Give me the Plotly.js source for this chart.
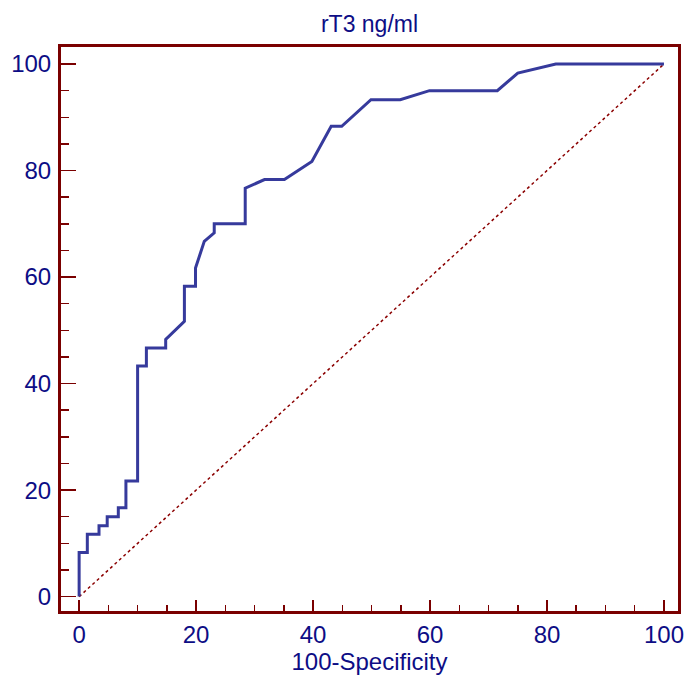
<!DOCTYPE html>
<html>
<head>
<meta charset="utf-8">
<script src="https://cdn.plot.ly/plotly-3.0.1.min.js"></script>
<style>html,body{margin:0;padding:0;background:#fff;}#chart{width:686px;height:677px;}</style>
</head>
<body>
<div id="chart"></div>
<script>
const chartTitle = "rT3 ng/ml";
const xTitle = "100-Specificity";
const rocX = [0, 0, 1.4, 1.4, 3.4, 3.4, 4.8, 4.8, 6.7, 6.7, 8.0, 8.0, 10.0, 10.0, 11.5, 11.5, 14.8, 14.8, 18.0, 18.0, 19.9, 19.9, 21.4, 23.1, 23.1, 28.4, 28.4, 31.7, 35.1, 39.8, 43.1, 44.9, 49.9, 54.9, 59.9, 71.5, 75.0, 81.5, 100];
const rocY = [0, 8.3, 8.3, 11.7, 11.7, 13.3, 13.3, 15.0, 15.0, 16.7, 16.7, 21.7, 21.7, 43.3, 43.3, 46.7, 46.7, 48.3, 51.7, 58.3, 58.3, 61.7, 66.7, 68.3, 70.0, 70.0, 76.7, 78.3, 78.3, 81.7, 88.3, 88.3, 93.3, 93.3, 95.0, 95.0, 98.3, 100, 100];
const diagX = [0, 100];
const diagY = [0, 100];
const tickVals = [0, 20, 40, 60, 80, 100];

const frameColor = '#7a0000';
const textColor = '#0d0d85';
const fam = 'Liberation Sans, Arial, sans-serif';
const font = {family: fam, size: 24, color: textColor};

const traces = [
  {x: diagX, y: diagY, type: 'scatter', mode: 'lines',
   line: {color: '#8b0000', width: 1.5, dash: 'dot'}, hoverinfo: 'skip'},
  {x: rocX, y: rocY, type: 'scatter', mode: 'lines',
   line: {color: '#363a9c', width: 3}, hoverinfo: 'skip'}
];

const axisCommon = {
  showgrid: false, zeroline: false,
  showline: true, linecolor: frameColor, linewidth: 3, mirror: true,
  ticks: 'inside', tickcolor: frameColor, tickwidth: 1.5,
  tickvals: tickVals, ticktext: tickVals.map(String),
  tickfont: font
};

const layout = {
  width: 686, height: 677,
  margin: {l: 61, r: 8, t: 47, b: 66},
  paper_bgcolor: '#fff', plot_bgcolor: '#fff',
  showlegend: false,
  title: {text: chartTitle, font: {family: fam, size: 23, color: textColor},
          xref: 'paper', x: 0.5, xanchor: 'center',
          yref: 'container', y: 0.965, yanchor: 'middle'},
  xaxis: Object.assign({}, axisCommon, {
    range: [-3.1, 102.4], ticklen: 11,
    minor: {dtick: 5, tick0: 0, ticks: 'inside', ticklen: 6, tickcolor: frameColor, tickwidth: 1.5},
    title: {text: xTitle, font: {family: fam, size: 24, color: textColor}, standoff: 4}
  }),
  yaxis: Object.assign({}, axisCommon, {
    range: [-2.7, 103.2], ticklen: 15, ticklabelstandoff: 2,
    minor: {dtick: 5, tick0: 0, ticks: 'inside', ticklen: 8, tickcolor: frameColor, tickwidth: 1.5}
  })
};

Plotly.newPlot('chart', traces, layout, {displayModeBar: false, staticPlot: true});
</script>
</body>
</html>
